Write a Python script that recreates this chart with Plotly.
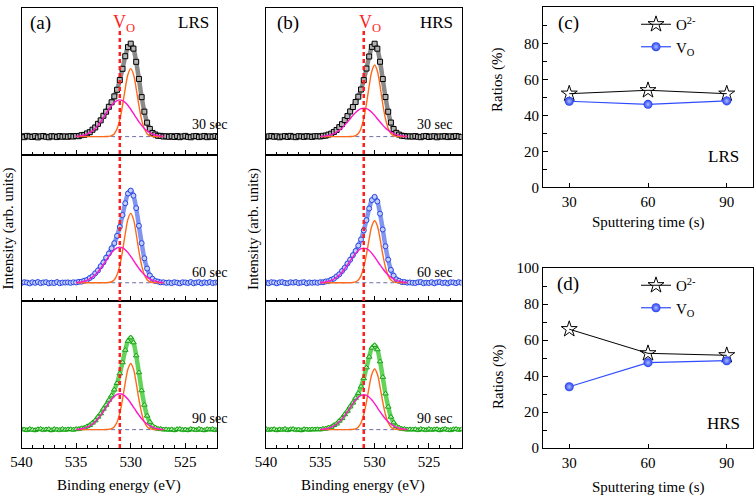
import plotly.graph_objects as go

FONT = "Liberation Serif"
W, H = 756, 497

# ---------------- data ----------------
energy = [540.0, 539.75, 539.5, 539.25, 539.0, 538.75, 538.5, 538.25, 538.0, 537.75,
          537.5, 537.25, 537.0, 536.75, 536.5, 536.25, 536.0, 535.75, 535.5, 535.25,
          535.0, 534.75, 534.5, 534.25, 534.0, 533.75, 533.5, 533.25, 533.0, 532.75,
          532.5, 532.25, 532.0, 531.75, 531.5, 531.25, 531.0, 530.75, 530.5, 530.25,
          530.0, 529.75, 529.5, 529.25, 529.0, 528.75, 528.5, 528.25, 528.0, 527.75,
          527.5, 527.25, 527.0, 526.75, 526.5, 526.25, 526.0, 525.75, 525.5, 525.25,
          525.0, 524.75, 524.5, 524.25, 524.0, 523.75, 523.5, 523.25, 523.0, 522.75,
          522.5, 522.25, 522.0]

lrs_30s = [0.004, -0.006, 0.008, 0.001, -0.004, 0.006, -0.008, 0.003, 0.007, -0.002, -0.007, 0.005, 0.002, -0.005, 0.006, -0.001,
           0.003, -0.002, 0.006, 0.001, 0.007, 0.005, 0.016, 0.019, 0.035, 0.048, 0.075, 0.100, 0.139, 0.177, 0.227, 0.271, 0.325,
           0.374, 0.438, 0.510, 0.616, 0.738, 0.875, 0.974, 1.012, 0.958, 0.814, 0.628, 0.430, 0.272, 0.152, 0.084, 0.040, 0.023,
           0.009, 0.008, 0.001, 0.004, -0.002,
           0.005, -0.004, 0.007, -0.006, 0.002, 0.008, -0.003, -0.007, 0.004, 0.006, -0.005, 0.001, 0.007, -0.006, 0.003, -0.002, 0.006, -0.004]
lrs_60s = [-0.003, 0.006, 0.002, -0.007, 0.005, -0.001, 0.008, -0.004, 0.003, 0.006, -0.006, 0.001, -0.003, 0.007, -0.005, 0.002,
           0.002, 0.004, -0.001, 0.005, 0.003, 0.010, 0.012, 0.023, 0.031, 0.052, 0.071, 0.104, 0.135, 0.181, 0.223, 0.275, 0.321,
           0.378, 0.434, 0.514, 0.612, 0.742, 0.871, 0.978, 1.010, 0.954, 0.818, 0.624, 0.434, 0.268, 0.156, 0.080, 0.044, 0.019,
           0.013, 0.004, 0.005, -0.001, 0.003,
           -0.004, 0.006, 0.001, -0.007, 0.005, 0.003, -0.002, 0.008, -0.005, 0.002, 0.006, -0.006, 0.004, -0.001, 0.007, -0.003, 0.002, 0.005]
lrs_90s = [0.006, 0.001, -0.005, 0.007, -0.002, -0.006, 0.004, 0.008, -0.003, 0.002, 0.005, -0.007, 0.006, 0.000, -0.004, 0.007,
           -0.002, 0.003, 0.004, -0.001, 0.006, 0.006, 0.015, 0.019, 0.035, 0.048, 0.074, 0.099, 0.138, 0.175, 0.225, 0.268, 0.322,
           0.370, 0.434, 0.505, 0.610, 0.731, 0.866, 0.964, 1.002, 0.948, 0.806, 0.622, 0.426, 0.269, 0.150, 0.083, 0.040, 0.023,
           0.009, 0.008, 0.001, 0.003, -0.002,
           0.003, -0.006, 0.005, 0.007, -0.003, 0.001, -0.006, 0.006, 0.002, -0.004, 0.008, -0.002, -0.006, 0.005, 0.001, 0.006, -0.005, 0.003]
hrs_30s = [-0.005, 0.003, 0.007, -0.002, 0.004, -0.007, 0.001, 0.006, -0.004, 0.008, -0.001, -0.006, 0.005, 0.003, -0.003, 0.006,
           0.001, -0.003, 0.005, 0.004, 0.002, 0.009, 0.011, 0.022, 0.032, 0.051, 0.072, 0.103, 0.136, 0.180, 0.224, 0.274, 0.322,
           0.377, 0.435, 0.513, 0.615, 0.741, 0.872, 0.977, 1.011, 0.957, 0.815, 0.627, 0.431, 0.271, 0.153, 0.083, 0.041, 0.022,
           0.010, 0.007, 0.002, 0.003, 0.000,
           0.006, -0.002, -0.006, 0.004, 0.007, -0.004, 0.002, 0.005, -0.007, 0.003, 0.000, 0.006, -0.005, 0.004, -0.003, 0.007, 0.001, -0.004]
hrs_60s = [0.002, -0.005, 0.006, 0.003, -0.006, 0.004, 0.007, -0.002, -0.005, 0.005, 0.001, 0.007, -0.004, 0.002, 0.006, -0.006,
           0.003, 0.000, 0.004, -0.001, 0.006, 0.005, 0.014, 0.018, 0.033, 0.045, 0.070, 0.093, 0.129, 0.164, 0.211, 0.252, 0.302,
           0.348, 0.407, 0.474, 0.573, 0.686, 0.814, 0.906, 0.941, 0.891, 0.757, 0.584, 0.400, 0.253, 0.141, 0.078, 0.037, 0.022,
           0.008, 0.008, 0.001, 0.003, -0.001,
           -0.003, 0.005, 0.008, -0.005, 0.001, -0.002, 0.006, -0.006, 0.004, 0.007, -0.003, 0.002, -0.007, 0.005, 0.003, -0.004, 0.006, 0.000]
hrs_90s = [0.007, -0.003, 0.002, 0.005, -0.006, 0.003, -0.001, 0.008, -0.005, 0.004, 0.006, -0.003, 0.001, -0.007, 0.005, 0.002,
           -0.001, 0.003, 0.002, 0.004, 0.002, 0.009, 0.010, 0.021, 0.028, 0.048, 0.064, 0.095, 0.123, 0.165, 0.203, 0.250, 0.292,
           0.344, 0.395, 0.468, 0.557, 0.675, 0.792, 0.890, 0.919, 0.872, 0.741, 0.572, 0.391, 0.248, 0.138, 0.077, 0.036, 0.021,
           0.008, 0.007, 0.001, 0.003, 0.001,
           0.004, -0.005, 0.006, 0.001, -0.004, 0.007, -0.002, 0.003, 0.005, -0.006, 0.002, 0.008, -0.003, -0.005, 0.004, 0.006, -0.002, 0.003]

fit_energy = [535.0, 534.75, 534.5, 534.25, 534.0, 533.75, 533.5, 533.25, 533.0, 532.75,
              532.5, 532.25, 532.0, 531.75, 531.5, 531.25, 531.0, 530.75, 530.5, 530.25,
              530.0, 529.75, 529.5, 529.25, 529.0, 528.75, 528.5, 528.25, 528.0, 527.75,
              527.5, 527.25, 527.0]

# lattice oxygen (O2-) component
o_lrs_30s = [0, 0, 0, 0, 0, 0, 0, 0, 0, 0, 0.000, 0.001, 0.003, 0.011, 0.032, 0.085, 0.185, 0.339, 0.523, 0.679, 0.740,
             0.679, 0.523, 0.339, 0.185, 0.085, 0.032, 0.011, 0.003, 0.001, 0.000, 0, 0]
o_lrs_60s = [0, 0, 0, 0, 0, 0, 0, 0, 0, 0, 0.000, 0.001, 0.003, 0.011, 0.033, 0.087, 0.190, 0.348, 0.537, 0.697, 0.760,
             0.697, 0.537, 0.348, 0.190, 0.087, 0.033, 0.011, 0.003, 0.001, 0.000, 0, 0]
o_lrs_90s = [0, 0, 0, 0, 0, 0, 0, 0, 0, 0, 0.000, 0.001, 0.003, 0.010, 0.032, 0.082, 0.180, 0.330, 0.509, 0.660, 0.720,
             0.660, 0.509, 0.330, 0.180, 0.082, 0.032, 0.010, 0.003, 0.001, 0.000, 0, 0]
o_hrs_30s = [0, 0, 0, 0, 0, 0, 0, 0, 0, 0, 0.000, 0.001, 0.003, 0.011, 0.034, 0.089, 0.195, 0.357, 0.551, 0.715, 0.780,
             0.715, 0.551, 0.357, 0.195, 0.089, 0.034, 0.011, 0.003, 0.001, 0.000, 0, 0]
o_hrs_60s = [0, 0, 0, 0, 0, 0, 0, 0, 0, 0, 0.000, 0.001, 0.003, 0.010, 0.030, 0.078, 0.170, 0.311, 0.481, 0.624, 0.680,
             0.624, 0.481, 0.311, 0.170, 0.078, 0.030, 0.010, 0.003, 0.001, 0.000, 0, 0]
o_hrs_90s = [0, 0, 0, 0, 0, 0, 0, 0, 0, 0, 0.000, 0.001, 0.003, 0.009, 0.029, 0.075, 0.165, 0.302, 0.466, 0.605, 0.660,
             0.605, 0.466, 0.302, 0.165, 0.075, 0.029, 0.009, 0.003, 0.001, 0.000, 0, 0]

# oxygen vacancy (Vo) component
v_lrs_30s = [0.004, 0.006, 0.011, 0.018, 0.028, 0.043, 0.063, 0.089, 0.122, 0.162, 0.206, 0.252, 0.298, 0.339, 0.371, 0.393, 0.400,
             0.393, 0.371, 0.339, 0.298, 0.252, 0.206, 0.162, 0.122, 0.089, 0.063, 0.043, 0.028, 0.018, 0.011, 0.006, 0.004]
v_lrs_60s = [0.003, 0.006, 0.010, 0.017, 0.027, 0.042, 0.061, 0.087, 0.119, 0.158, 0.200, 0.246, 0.290, 0.330, 0.362, 0.383, 0.390,
             0.383, 0.362, 0.330, 0.290, 0.246, 0.200, 0.158, 0.119, 0.087, 0.061, 0.042, 0.027, 0.017, 0.010, 0.006, 0.003]
v_lrs_90s = [0.003, 0.006, 0.010, 0.017, 0.027, 0.042, 0.061, 0.087, 0.119, 0.158, 0.200, 0.246, 0.290, 0.330, 0.362, 0.383, 0.390,
             0.383, 0.362, 0.330, 0.290, 0.246, 0.200, 0.158, 0.119, 0.087, 0.061, 0.042, 0.027, 0.017, 0.010, 0.006, 0.003]
v_hrs_30s = [0.003, 0.005, 0.008, 0.014, 0.022, 0.033, 0.049, 0.069, 0.095, 0.125, 0.159, 0.195, 0.231, 0.263, 0.288, 0.304, 0.310,
             0.304, 0.288, 0.263, 0.231, 0.195, 0.159, 0.125, 0.095, 0.069, 0.049, 0.033, 0.022, 0.014, 0.008, 0.005, 0.003]
v_hrs_60s = [0.003, 0.006, 0.010, 0.017, 0.027, 0.041, 0.060, 0.085, 0.116, 0.154, 0.195, 0.239, 0.283, 0.322, 0.353, 0.373, 0.380,
             0.373, 0.353, 0.322, 0.283, 0.239, 0.195, 0.154, 0.116, 0.085, 0.060, 0.041, 0.027, 0.017, 0.010, 0.006, 0.003]
v_hrs_90s = [0.003, 0.006, 0.010, 0.017, 0.027, 0.041, 0.060, 0.085, 0.116, 0.154, 0.195, 0.239, 0.283, 0.322, 0.353, 0.373, 0.380,
             0.373, 0.353, 0.322, 0.283, 0.239, 0.195, 0.154, 0.116, 0.085, 0.060, 0.041, 0.027, 0.017, 0.010, 0.006, 0.003]

baseline_energy = [535.0, 527.0]
baseline_level = [0.0, 0.0]
vo_energy = 531.0

sputter_time = [30, 60, 90]
lrs_o2 = [52.0, 53.9, 52.0]
lrs_vo = [47.8, 46.1, 48.0]
hrs_o2 = [66.0, 52.6, 51.5]
hrs_vo = [34.0, 47.4, 48.5]

time_labels = ["30 sec", "60 sec", "90 sec"]

# ---------------- geometry helpers ----------------
def fx(p):
    return p / W

def fy(p):
    return 1 - p / H

rows_px = [(8, 155), (155, 301), (301, 448)]
cols_px = {"a": (21.5, 217.0), "b": (266.0, 461.5)}

styles = [
    (dict(symbol="square", size=5, color="#b4b4b4", line=dict(color="#000000", width=1)), "#8a8a8a"),
    (dict(symbol="circle", size=5, color="#c4cefa", line=dict(color="#2645e6", width=1)), "#8196f0"),
    (dict(symbol="triangle-up", size=5, color="#b2f0aa", line=dict(color="#17a017", width=1)), "#62d45a"),
]

spectra = {
    "a": [(lrs_30s, o_lrs_30s, v_lrs_30s), (lrs_60s, o_lrs_60s, v_lrs_60s), (lrs_90s, o_lrs_90s, v_lrs_90s)],
    "b": [(hrs_30s, o_hrs_30s, v_hrs_30s), (hrs_60s, o_hrs_60s, v_hrs_60s), (hrs_90s, o_hrs_90s, v_hrs_90s)],
}

fig = go.Figure()
layout = {}
annotations = []
shapes = []

axis_font = dict(family=FONT, size=15, color="black")

k = 0
for col in ["a", "b"]:
    x0, x1 = cols_px[col]
    for r in range(3):
        k += 1
        sfx = "" if k == 1 else str(k)
        top, bot = rows_px[r]
        data, oc, vc = spectra[col][r]
        mk, band = styles[r]
        xa, ya = "x" + sfx, "y" + sfx
        fig.add_trace(go.Scatter(x=energy, y=data, mode="lines", line=dict(color=band, width=4.5, shape="spline"),
                                 xaxis=xa, yaxis=ya, showlegend=False, hoverinfo="skip"))
        fig.add_trace(go.Scatter(x=energy, y=data, mode="markers", marker=mk,
                                 xaxis=xa, yaxis=ya, showlegend=False))
        fig.add_trace(go.Scatter(x=baseline_energy, y=baseline_level, mode="lines",
                                 line=dict(color="#6c6ca8", width=1, dash="4px,3px"),
                                 xaxis=xa, yaxis=ya, showlegend=False))
        fig.add_trace(go.Scatter(x=fit_energy, y=oc, mode="lines", line=dict(color="#ff6a1a", width=1.4, shape="spline"),
                                 xaxis=xa, yaxis=ya, showlegend=False))
        fig.add_trace(go.Scatter(x=fit_energy, y=vc, mode="lines", line=dict(color="#ff17c8", width=1.4, shape="spline"),
                                 xaxis=xa, yaxis=ya, showlegend=False))
        layout["xaxis" + sfx] = dict(
            domain=[fx(x0), fx(x1)], anchor=ya, range=[540, 522.1 if col == "a" else 522.0],
            showline=True, linecolor="black", linewidth=1, mirror=True, automargin=False,
            ticks="inside", tick0=540, dtick=5, ticklen=5, tickcolor="black", tickwidth=1,
            minor=dict(dtick=1, ticklen=3, ticks="inside", tickcolor="black", tickwidth=1),
            showticklabels=(r == 2), tickfont=axis_font, showgrid=False, zeroline=False)
        layout["yaxis" + sfx] = dict(
            domain=[fy(bot), fy(top)], anchor=xa, range=[-0.2, 1.4], automargin=False,
            showline=True, linecolor="black", linewidth=1, mirror=True,
            ticks="", showticklabels=False, showgrid=False, zeroline=False)
        annotations.append(dict(text=time_labels[r], xref="paper", yref="paper",
                                x=fx(x1 - 27), y=fy(top + 117), showarrow=False, yanchor="middle",
                                font=dict(family=FONT, size=14, color="black")))
    shapes.append(dict(type="line", xref="x" + str(k), yref="paper", x0=vo_energy, x1=vo_energy,
                       y0=fy(448), y1=fy(31), line=dict(color="#ff1f1f", width=2.5, dash="4px,3px")))

ratio_panels = [("7", (7.3, 187.3), lrs_o2, lrs_vo, "legend"), ("8", (268.0, 448.0), hrs_o2, hrs_vo, "legend2")]
for sfx, (top, bot), o2, vo, leg in ratio_panels:
    xa, ya = "x" + sfx, "y" + sfx
    fig.add_trace(go.Scatter(x=sputter_time, y=o2, mode="lines+markers", name="O<sup>2-</sup>",
                             line=dict(color="black", width=1),
                             marker=dict(symbol="star-open", size=12, color="black", line=dict(width=1)),
                             xaxis=xa, yaxis=ya, legend=leg))
    fig.add_trace(go.Scatter(x=sputter_time, y=vo, mode="lines+markers", name="V<sub>O</sub>",
                             line=dict(color="#2f4cff", width=1.2),
                             marker=dict(symbol="circle", size=9, color="#1f3cf0",
                                         gradient=dict(type="radial", color="#aebcff"),
                                         line=dict(width=0)),
                             xaxis=xa, yaxis=ya, legend=leg))
    layout["xaxis" + sfx] = dict(
        domain=[fx(543), fx(753)], anchor=ya, range=[20, 100], tickvals=sputter_time, automargin=False,
        showline=True, linecolor="black", linewidth=1, mirror=True,
        ticks="inside", ticklen=4, tickcolor="black", tickfont=axis_font, ticklabelstandoff=1,
        showgrid=False, zeroline=False)
    layout["yaxis" + sfx] = dict(
        domain=[fy(bot), fy(top)], anchor=xa, range=[0, 100], dtick=20, automargin=False,
        showline=True, linecolor="black", linewidth=1, mirror=True,
        ticks="inside", ticklen=5, tickcolor="black", tickfont=axis_font,
        minor=dict(dtick=10, ticklen=4, ticks="inside", tickcolor="black"),
        showgrid=False, zeroline=False)

def ann(text, x, y, size=15, color="black", angle=0, xanchor="center"):
    annotations.append(dict(text=text, xref="paper", yref="paper", x=fx(x), y=fy(y),
                            showarrow=False, textangle=angle, xanchor=xanchor, yanchor="middle",
                            font=dict(family=FONT, size=size, color=color)))

ann("(a)", 40, 23, 19)
ann("LRS", 193, 23, 17)
ann("V<sub>O</sub>", 124, 24, 18, "#ff1f1f")
ann("(b)", 288, 23, 19)
ann("HRS", 436, 23, 17)
ann("V<sub>O</sub>", 370, 24, 18, "#ff1f1f")
ann("Binding energy (eV)", 119, 485, 15)
ann("Binding energy (eV)", 363, 485, 15)
ann("Intensity (arb. units)", 7.5, 229, 15, angle=-90)
ann("Intensity (arb. units)", 253, 229, 15, angle=-90)
ann("(c)", 568, 23, 19)
ann("LRS", 723, 157, 17)
ann("(d)", 568, 284, 19)
ann("HRS", 723, 423, 17)
ann("Ratios (%)", 498, 80, 15, angle=-90)
ann("Ratios (%)", 498, 377, 15, angle=-90)
ann("Sputtering time (s)", 648, 223, 15)
ann("Sputtering time (s)", 648, 487, 15)

legend_common = dict(xanchor="left", yanchor="top", bgcolor="rgba(0,0,0,0)", borderwidth=0,
                     font=dict(family=FONT, size=15, color="black"), tracegroupgap=0, itemwidth=30)

fig.update_layout(
    width=W, height=H, margin=dict(l=0, r=0, t=0, b=0, pad=0, autoexpand=False),
    paper_bgcolor="white", plot_bgcolor="white",
    font=dict(family=FONT, color="black"),
    annotations=annotations, shapes=shapes,
    legend=dict(x=fx(636), y=fy(8), **legend_common),
    legend2=dict(x=fx(636), y=fy(269), **legend_common),
    **layout,
)

fig.write_html("out.html", config={"displayModeBar": False},
               post_script="document.body.style.margin='0';document.body.style.overflow='hidden';")
